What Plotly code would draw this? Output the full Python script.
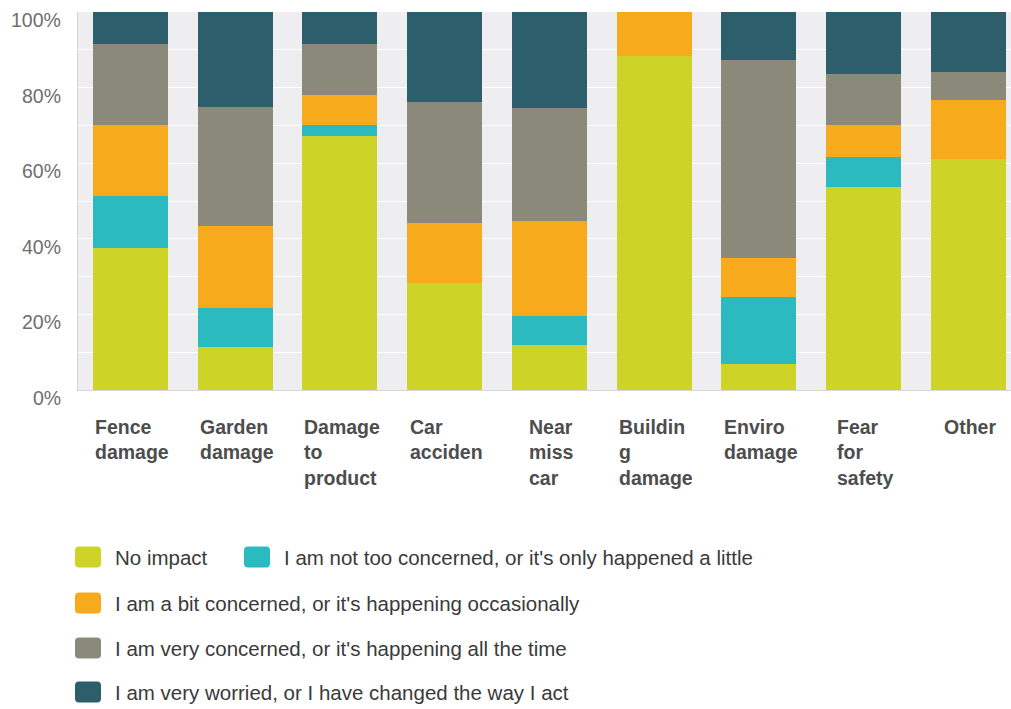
import plotly.graph_objects as go

# Impact categories (x axis) and their wrapped labels
categories = ["Fence damage", "Garden damage", "Damage to product", "Car acciden",
              "Near miss car", "Building damage", "Enviro damage", "Fear for safety", "Other"]
category_labels = ["Fence<br>damage", "Garden<br>damage", "Damage<br>to<br>product", "Car<br>acciden",
                   "Near<br>miss<br>car", "Buildin<br>g<br>damage", "Enviro<br>damage",
                   "Fear<br>for<br>safety", "Other"]

# Share of respondents (%) per response level, stacked bottom to top
no_impact      = [37.5, 11.3, 67.1, 28.2, 11.9, 88.3,  7.0, 53.7, 61.2]
not_too        = [13.7, 10.3,  3.1,  0.0,  7.8,  0.0, 17.7,  7.9,  0.0]
bit_concerned  = [19.0, 21.9,  7.9, 15.9, 25.0, 11.7, 10.2,  8.6, 15.4]
very_concerned = [21.4, 31.5, 13.5, 32.1, 30.0,  0.0, 52.3, 13.3,  7.5]
very_worried   = [ 8.4, 25.0,  8.4, 23.8, 25.3,  0.0, 12.8, 16.5, 15.9]

series_names = ["No impact",
                "I am not too concerned, or it's only happened a little",
                "I am a bit concerned, or it's happening occasionally",
                "I am very concerned, or it's happening all the time",
                "I am very worried, or I have changed the way I act"]
series_values = [no_impact, not_too, bit_concerned, very_concerned, very_worried]
series_colors = ["#cdd427", "#2cbac1", "#f6aa1c", "#8a897a", "#2c5e6c"]

grid_ticks = list(range(0, 101, 10))
label_ticks = list(range(0, 101, 20))
label_text = [f"{v}%" for v in label_ticks]

FONT = "Liberation Sans, Arial, sans-serif"
W, H = 1011, 709
ML, MR, MT, MB = 78, 0, 12, 319
PW, PH = W - ML - MR, H - MT - MB

fig = go.Figure()
for name, vals, color in zip(series_names, series_values, series_colors):
    fig.add_trace(go.Bar(x=categories, y=vals, name=name, marker=dict(color=color, line=dict(width=0)),
                         showlegend=False))

# Category labels: block centred under each bar, lines left-aligned
for cat, lab in zip(categories, category_labels):
    fig.add_annotation(x=cat, y=0, xref="x", yref="paper", text=lab, showarrow=False,
                       xanchor="center", yanchor="top", align="left", yshift=-24, xshift=2,
                       font=dict(family=FONT, size=19.5, color="#4d4d4d", weight="bold"))

# Percentage labels, sitting a little below their gridlines
for v, t in zip(label_ticks, label_text):
    fig.add_annotation(x=0, y=v, xref="paper", yref="y", text=t, showarrow=False,
                       xanchor="right", yanchor="middle", xshift=-15, yshift=-8,
                       font=dict(family=FONT, size=19.5, color="#6e6e6e"))


def px_x(px):
    return (px - ML) / PW


def px_y(py):
    return (MT + PH - py) / PH


def swatch(x0, yc, w=26, h=21, r=4):
    x1 = x0 + w
    y0, y1 = yc - h / 2, yc + h / 2
    return (f"M{x0 + r},{y0} L{x1 - r},{y0} Q{x1},{y0} {x1},{y0 + r} L{x1},{y1 - r} "
            f"Q{x1},{y1} {x1 - r},{y1} L{x0 + r},{y1} Q{x0},{y1} {x0},{y1 - r} "
            f"L{x0},{y0 + r} Q{x0},{y0} {x0 + r},{y0} Z")


# Legend rows: (swatch left px, row centre px)
legend_pos = [(75, 557), (244, 557), (75, 603), (75, 648), (75, 692)]
for (sx, sy), name, color in zip(legend_pos, series_names, series_colors):
    fig.add_shape(type="path", xref="paper", yref="paper", xsizemode="pixel", ysizemode="pixel",
                  xanchor=0, yanchor=0, path=swatch(sx - ML, MT + PH - sy),
                  fillcolor=color, line=dict(width=0))
    fig.add_annotation(x=px_x(sx + 38), y=px_y(sy), xref="paper", yref="paper", text=name,
                       showarrow=False, xanchor="left", yanchor="middle",
                       font=dict(family=FONT, size=20.5, color="#3a3a3a"))

fig.update_layout(
    width=W, height=H, barmode="stack", bargap=0.284,
    margin=dict(l=ML, r=MR, t=MT, b=MB),
    paper_bgcolor="white", plot_bgcolor="#eeeef0",
    font=dict(family=FONT),
)
fig.update_xaxes(range=[-0.5, 8.406], showticklabels=False, showgrid=False, zeroline=False,
                 showline=True, linecolor="#d6d6d6", linewidth=1)
fig.update_yaxes(range=[0, 100], tickvals=grid_ticks, showticklabels=False, gridcolor="white",
                 gridwidth=1, zeroline=False, showline=True, linecolor="#d6d6d6", linewidth=1)

fig.write_html("out.html")
